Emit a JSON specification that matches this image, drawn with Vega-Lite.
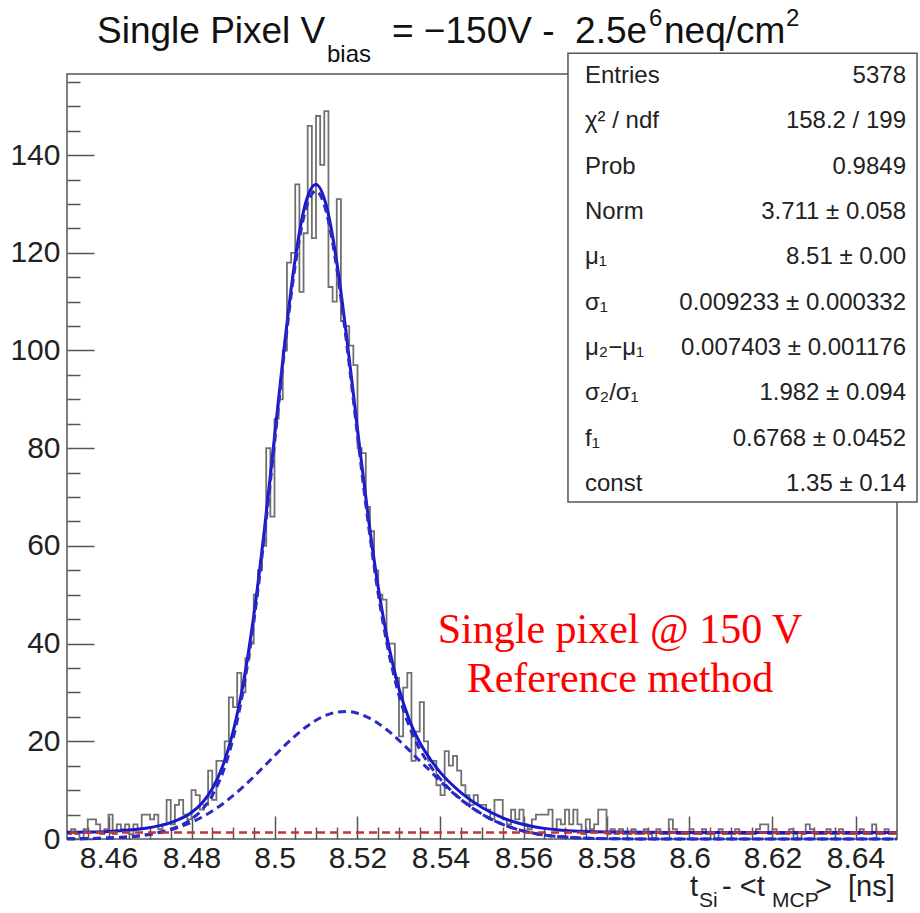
{
  "$schema": "https://vega.github.io/schema/vega-lite/v6.json",
  "width": 830,
  "height": 765,
  "autosize": {"type": "none"},
  "padding": {"left": 67, "top": 74, "right": 23, "bottom": 74},
  "background": "white",
  "config": {"view": {"stroke": "#555", "strokeWidth": 1.5}, "font": "Liberation Sans"},
  "datasets": {
    "hist": [
      {"x":8.450,"n":1},{"x":8.451,"n":2},{"x":8.452,"n":1},{"x":8.453,"n":0},{"x":8.454,"n":2},
      {"x":8.455,"n":4},{"x":8.456,"n":4},{"x":8.457,"n":3},{"x":8.458,"n":1},{"x":8.459,"n":2},
      {"x":8.460,"n":5},{"x":8.461,"n":1},{"x":8.462,"n":3},{"x":8.463,"n":2},{"x":8.464,"n":3},
      {"x":8.465,"n":1},{"x":8.466,"n":3},{"x":8.467,"n":2},{"x":8.468,"n":5},{"x":8.469,"n":5},
      {"x":8.470,"n":4},{"x":8.471,"n":5},{"x":8.472,"n":2},{"x":8.473,"n":3},{"x":8.474,"n":8},
      {"x":8.475,"n":3},{"x":8.476,"n":7},{"x":8.477,"n":8},{"x":8.478,"n":5},{"x":8.479,"n":4},
      {"x":8.480,"n":10},{"x":8.481,"n":9},{"x":8.482,"n":6},{"x":8.483,"n":7},{"x":8.484,"n":14},
      {"x":8.485,"n":8},{"x":8.486,"n":16},{"x":8.487,"n":16},{"x":8.488,"n":20},{"x":8.489,"n":29},
      {"x":8.490,"n":27},{"x":8.491,"n":34},{"x":8.492,"n":30},{"x":8.493,"n":37},{"x":8.494,"n":40},
      {"x":8.495,"n":50},{"x":8.496,"n":55},{"x":8.497,"n":60},{"x":8.498,"n":80},{"x":8.499,"n":66},
      {"x":8.500,"n":86},{"x":8.501,"n":90},{"x":8.502,"n":100},{"x":8.503,"n":118},{"x":8.504,"n":120},
      {"x":8.505,"n":134},{"x":8.506,"n":112},{"x":8.507,"n":124},{"x":8.508,"n":146},{"x":8.509,"n":123},
      {"x":8.510,"n":148},{"x":8.511,"n":138},{"x":8.512,"n":149},{"x":8.513,"n":113},{"x":8.514,"n":110},
      {"x":8.515,"n":131},{"x":8.516,"n":106},{"x":8.517,"n":105},{"x":8.518,"n":101},{"x":8.519,"n":97},
      {"x":8.520,"n":80},{"x":8.521,"n":79},{"x":8.522,"n":68},{"x":8.523,"n":63},{"x":8.524,"n":55},
      {"x":8.525,"n":50},{"x":8.526,"n":49},{"x":8.527,"n":40},{"x":8.528,"n":40},{"x":8.529,"n":33},
      {"x":8.530,"n":21},{"x":8.531,"n":31},{"x":8.532,"n":34},{"x":8.533,"n":16},{"x":8.534,"n":22},
      {"x":8.535,"n":28},{"x":8.536,"n":20},{"x":8.537,"n":16},{"x":8.538,"n":16},{"x":8.539,"n":11},
      {"x":8.540,"n":9},{"x":8.541,"n":18},{"x":8.542,"n":15},{"x":8.543,"n":17},{"x":8.544,"n":14},
      {"x":8.545,"n":11},{"x":8.546,"n":9},{"x":8.547,"n":7},{"x":8.548,"n":9},{"x":8.549,"n":7},
      {"x":8.550,"n":7},{"x":8.551,"n":6},{"x":8.552,"n":4},{"x":8.553,"n":8},{"x":8.554,"n":8},
      {"x":8.555,"n":4},{"x":8.556,"n":3},{"x":8.557,"n":6},{"x":8.558,"n":4},{"x":8.559,"n":6},
      {"x":8.560,"n":3},{"x":8.561,"n":2},{"x":8.562,"n":4},{"x":8.563,"n":5},{"x":8.564,"n":5},
      {"x":8.565,"n":5},{"x":8.566,"n":6},{"x":8.567,"n":2},{"x":8.568,"n":4},{"x":8.569,"n":3},
      {"x":8.570,"n":6},{"x":8.571,"n":3},{"x":8.572,"n":6},{"x":8.573,"n":3},{"x":8.574,"n":1},
      {"x":8.575,"n":4},{"x":8.576,"n":2},{"x":8.577,"n":3},{"x":8.578,"n":6},{"x":8.579,"n":6},
      {"x":8.580,"n":1},{"x":8.581,"n":2},{"x":8.582,"n":1},{"x":8.583,"n":2},{"x":8.584,"n":1},
      {"x":8.585,"n":1},{"x":8.586,"n":2},{"x":8.587,"n":1},{"x":8.588,"n":1},{"x":8.589,"n":2},
      {"x":8.590,"n":1},{"x":8.591,"n":0},{"x":8.592,"n":2},{"x":8.593,"n":1},{"x":8.594,"n":1},
      {"x":8.595,"n":4},{"x":8.596,"n":2},{"x":8.597,"n":1},{"x":8.598,"n":1},{"x":8.599,"n":1},
      {"x":8.600,"n":2},{"x":8.601,"n":1},{"x":8.602,"n":1},{"x":8.603,"n":2},{"x":8.604,"n":1},
      {"x":8.605,"n":1},{"x":8.606,"n":0},{"x":8.607,"n":2},{"x":8.608,"n":1},{"x":8.609,"n":1},
      {"x":8.610,"n":1},{"x":8.611,"n":2},{"x":8.612,"n":1},{"x":8.613,"n":1},{"x":8.614,"n":1},
      {"x":8.615,"n":1},{"x":8.616,"n":2},{"x":8.617,"n":3},{"x":8.618,"n":3},{"x":8.619,"n":1},
      {"x":8.620,"n":2},{"x":8.621,"n":1},{"x":8.622,"n":1},{"x":8.623,"n":1},{"x":8.624,"n":2},
      {"x":8.625,"n":1},{"x":8.626,"n":0},{"x":8.627,"n":1},{"x":8.628,"n":3},{"x":8.629,"n":2},
      {"x":8.630,"n":1},{"x":8.631,"n":1},{"x":8.632,"n":1},{"x":8.633,"n":2},{"x":8.634,"n":1},
      {"x":8.635,"n":1},{"x":8.636,"n":2},{"x":8.637,"n":1},{"x":8.638,"n":1},{"x":8.639,"n":1},
      {"x":8.640,"n":1},{"x":8.641,"n":2},{"x":8.642,"n":1},{"x":8.643,"n":1},{"x":8.644,"n":3},
      {"x":8.645,"n":1},{"x":8.646,"n":1},{"x":8.647,"n":2},{"x":8.648,"n":1},{"x":8.649,"n":1},
      {"x":8.650,"n":1}
    ],
    "fit": [
      {"x":8.450,"total":1.383,"gsum":0.033,"wide":0.033},
      {"x":8.455,"total":1.435,"gsum":0.085,"wide":0.085},
      {"x":8.460,"total":1.557,"gsum":0.207,"wide":0.207},
      {"x":8.465,"total":1.819,"gsum":0.469,"wide":0.468},
      {"x":8.470,"total":2.340,"gsum":0.990,"wide":0.978},
      {"x":8.475,"total":3.349,"gsum":1.999,"wide":1.898},
      {"x":8.480,"total":5.427,"gsum":4.077,"wide":3.418},
      {"x":8.4825,"total":7.321,"gsum":5.971,"wide":4.461},
      {"x":8.485,"total":10.273,"gsum":8.923,"wide":5.713},
      {"x":8.4875,"total":14.88,"gsum":13.53,"wide":7.18},
      {"x":8.490,"total":21.88,"gsum":20.53,"wide":8.86},
      {"x":8.4925,"total":32.00,"gsum":30.65,"wide":10.73},
      {"x":8.495,"total":45.72,"gsum":44.37,"wide":12.75},
      {"x":8.4975,"total":62.85,"gsum":61.50,"wide":14.88},
      {"x":8.500,"total":82.30,"gsum":80.95,"wide":17.04},
      {"x":8.5025,"total":101.90,"gsum":100.55,"wide":19.15},
      {"x":8.505,"total":118.83,"gsum":117.48,"wide":21.13},
      {"x":8.5075,"total":130.20,"gsum":128.85,"wide":22.87},
      {"x":8.510,"total":134.00,"gsum":132.65,"wide":24.31},
      {"x":8.5125,"total":129.63,"gsum":128.28,"wide":25.36},
      {"x":8.515,"total":118.17,"gsum":116.82,"wide":25.96},
      {"x":8.5175,"total":101.98,"gsum":100.63,"wide":26.09},
      {"x":8.520,"total":83.91,"gsum":82.56,"wide":25.73},
      {"x":8.5225,"total":66.53,"gsum":65.18,"wide":24.91},
      {"x":8.525,"total":51.51,"gsum":50.16,"wide":23.66},
      {"x":8.5275,"total":39.64,"gsum":38.29,"wide":22.07},
      {"x":8.530,"total":30.78,"gsum":29.43,"wide":20.20},
      {"x":8.5325,"total":24.37,"gsum":23.02,"wide":18.15},
      {"x":8.535,"total":19.74,"gsum":18.39,"wide":16.00},
      {"x":8.5375,"total":16.38,"gsum":15.03,"wide":13.94},
      {"x":8.540,"total":13.58,"gsum":12.23,"wide":11.77},
      {"x":8.545,"total":9.45,"gsum":8.10,"wide":8.03},
      {"x":8.550,"total":6.44,"gsum":5.09,"wide":5.08},
      {"x":8.555,"total":4.34,"gsum":2.99,"wide":2.99},
      {"x":8.560,"total":2.98,"gsum":1.63,"wide":1.63},
      {"x":8.565,"total":2.175,"gsum":0.825,"wide":0.825},
      {"x":8.570,"total":1.738,"gsum":0.388,"wide":0.388},
      {"x":8.575,"total":1.519,"gsum":0.169,"wide":0.169},
      {"x":8.580,"total":1.418,"gsum":0.068,"wide":0.068},
      {"x":8.590,"total":1.359,"gsum":0.009,"wide":0.009},
      {"x":8.600,"total":1.351,"gsum":0.001,"wide":0.001},
      {"x":8.650,"total":1.350,"gsum":0.0,"wide":0.0}
    ]
  },
  "layer": [
    {
      "data": {"name": "hist"},
      "mark": {"type": "line", "interpolate": "step-after", "stroke": "#707070", "strokeWidth": 1.8},
      "encoding": {
        "x": {"field": "x", "type": "quantitative",
              "scale": {"domain": [8.45, 8.65], "nice": false, "zero": false},
              "axis": {"orient": "bottom", "values": [8.46,8.48,8.5,8.52,8.54,8.56,8.58,8.6,8.62,8.64], "format": ".2~f",
                       "labelFontSize": 30, "labelFont": "Liberation Sans", "labelColor": "#222", "tickSize": -23,
                       "tickColor": "#555", "tickWidth": 1.5, "domain": false, "grid": false, "title": null,
                       "labelPadding": 27, "labelFlush": false, "labelOverlap": false}},
        "y": {"field": "n", "type": "quantitative",
              "scale": {"domain": [0, 156.6], "nice": false, "zero": true},
              "axis": {"orient": "left", "values": [0,20,40,60,80,100,120,140],
                       "labelFontSize": 30, "labelFont": "Liberation Sans", "labelColor": "#222", "tickSize": -27,
                       "tickColor": "#555", "tickWidth": 1.5, "domain": false, "grid": false, "title": null,
                       "labelPadding": 34, "labelFlush": false, "labelOverlap": false}}
      }
    },
    {
      "data": {"name": "fit"},
      "mark": {"type": "line", "interpolate": "monotone", "stroke": "#1818cc", "strokeWidth": 3},
      "encoding": {
        "x": {"field": "x", "type": "quantitative",
              "axis": {"orient": "bottom", "values": [8.455,8.465,8.47,8.475,8.485,8.49,8.495,8.505,8.51,8.515,8.525,8.53,8.535,8.545,8.55,8.555,8.565,8.57,8.575,8.585,8.59,8.595,8.605,8.61,8.615,8.625,8.63,8.635,8.645],
                       "labels": false, "tickSize": -12, "tickColor": "#555", "tickWidth": 1.5, "domain": false, "grid": false, "title": null}},
        "y": {"field": "total", "type": "quantitative",
              "axis": {"orient": "left", "values": [5,10,15,25,30,35,45,50,55,65,70,75,85,90,95,105,110,115,125,130,135,145,150,155],
                       "labels": false, "tickSize": -13, "tickColor": "#555", "tickWidth": 1.5, "domain": false, "grid": false, "title": null}}
      }
    },
    {
      "data": {"name": "fit"},
      "mark": {"type": "line", "interpolate": "monotone", "stroke": "#2a2ac4", "strokeWidth": 3, "strokeDash": [8, 5]},
      "encoding": {
        "x": {"field": "x", "type": "quantitative", "axis": null},
        "y": {"field": "gsum", "type": "quantitative", "axis": null}
      }
    },
    {
      "data": {"name": "fit"},
      "mark": {"type": "line", "interpolate": "monotone", "stroke": "#2a2ac4", "strokeWidth": 3, "strokeDash": [8, 5]},
      "encoding": {
        "x": {"field": "x", "type": "quantitative", "axis": null},
        "y": {"field": "wide", "type": "quantitative", "axis": null}
      }
    },
    {
      "data": {"values": [{}]},
      "mark": {"type": "rule", "stroke": "#c83232", "strokeWidth": 2.5, "strokeDash": [8, 5]},
      "encoding": {"y": {"datum": 1.35, "axis": null}}
    },
    {
      "data": {"values": [{}]},
      "mark": {"type": "rect", "fill": "white", "stroke": "#555", "strokeWidth": 1.5},
      "encoding": {
        "x": {"datum": 8.57072, "axis": null}, "x2": {"datum": 8.65482},
        "y": {"datum": 160.87, "axis": null}, "y2": {"datum": 68.97}
      }
    },
    {
      "data": {"values": [{}]},
      "mark": {"type": "text", "align": "left", "baseline": "alphabetic", "fontSize": 24, "font": "Liberation Sans", "color": "#222", "lineHeight": 45.3,
               "text": ["Entries", "χ² / ndf", "Prob", "Norm", "μ₁", "σ₁", "μ₂−μ₁", "σ₂/σ₁", "f₁", "const"]},
      "encoding": {"x": {"datum": 8.57482, "axis": null}, "y": {"datum": 154.73, "axis": null}}
    },
    {
      "data": {"values": [{}]},
      "mark": {"type": "text", "align": "right", "baseline": "alphabetic", "fontSize": 24, "font": "Liberation Sans", "color": "#222", "lineHeight": 45.3,
               "text": ["5378", "158.2 / 199", "0.9849", "3.711 ± 0.058", "8.51 ± 0.00", "0.009233 ± 0.000332", "0.007403 ± 0.001176", "1.982 ± 0.094", "0.6768 ± 0.0452", "1.35 ± 0.14"]},
      "encoding": {"x": {"datum": 8.65217, "axis": null}, "y": {"datum": 154.73, "axis": null}}
    },
    {
      "data": {"values": [{}]},
      "mark": {"type": "text", "align": "center", "baseline": "alphabetic", "fontSize": 42, "font": "Liberation Serif", "color": "#ff0000", "lineHeight": 49,
               "text": ["Single pixel @ 150 V", "Reference method"]},
      "encoding": {"x": {"datum": 8.58325, "axis": null}, "y": {"datum": 40.11, "axis": null}}
    },
    {
      "data": {"values": [{}]},
      "mark": {"type": "text", "align": "left", "baseline": "alphabetic", "fontSize": 37, "font": "Liberation Sans", "color": "#111", "text": "Single Pixel V"},
      "encoding": {"x": {"datum": 8.45723, "axis": null}, "y": {"datum": 162.91, "axis": null}}
    },
    {
      "data": {"values": [{}]},
      "mark": {"type": "text", "align": "left", "baseline": "alphabetic", "fontSize": 24, "font": "Liberation Sans", "color": "#111", "text": "bias"},
      "encoding": {"x": {"datum": 8.51265, "axis": null}, "y": {"datum": 159.03, "axis": null}}
    },
    {
      "data": {"values": [{}]},
      "mark": {"type": "text", "align": "left", "baseline": "alphabetic", "fontSize": 37, "font": "Liberation Sans", "color": "#111", "text": "= −150V -\u00a0\u00a02.5e"},
      "encoding": {"x": {"datum": 8.52831, "axis": null}, "y": {"datum": 162.91, "axis": null}}
    },
    {
      "data": {"values": [{}]},
      "mark": {"type": "text", "align": "left", "baseline": "alphabetic", "fontSize": 24, "font": "Liberation Sans", "color": "#111", "text": "6"},
      "encoding": {"x": {"datum": 8.59024, "axis": null}, "y": {"datum": 166.39, "axis": null}}
    },
    {
      "data": {"values": [{}]},
      "mark": {"type": "text", "align": "left", "baseline": "alphabetic", "fontSize": 37, "font": "Liberation Sans", "color": "#111", "text": "neq/cm"},
      "encoding": {"x": {"datum": 8.59386, "axis": null}, "y": {"datum": 162.91, "axis": null}}
    },
    {
      "data": {"values": [{}]},
      "mark": {"type": "text", "align": "left", "baseline": "alphabetic", "fontSize": 24, "font": "Liberation Sans", "color": "#111", "text": "2"},
      "encoding": {"x": {"datum": 8.62325, "axis": null}, "y": {"datum": 166.39, "axis": null}}
    },
    {
      "data": {"values": [{}]},
      "mark": {"type": "text", "align": "left", "baseline": "alphabetic", "fontSize": 29, "font": "Liberation Sans", "color": "#222", "text": "t"},
      "encoding": {"x": {"datum": 8.60012, "axis": null}, "y": {"datum": -11.67, "axis": null}}
    },
    {
      "data": {"values": [{}]},
      "mark": {"type": "text", "align": "left", "baseline": "alphabetic", "fontSize": 21, "font": "Liberation Sans", "color": "#222", "text": "Si"},
      "encoding": {"x": {"datum": 8.60229, "axis": null}, "y": {"datum": -13.92, "axis": null}}
    },
    {
      "data": {"values": [{}]},
      "mark": {"type": "text", "align": "left", "baseline": "alphabetic", "fontSize": 29, "font": "Liberation Sans", "color": "#222", "text": "- <t"},
      "encoding": {"x": {"datum": 8.60783, "axis": null}, "y": {"datum": -11.67, "axis": null}}
    },
    {
      "data": {"values": [{}]},
      "mark": {"type": "text", "align": "left", "baseline": "alphabetic", "fontSize": 21, "font": "Liberation Sans", "color": "#222", "text": "MCP"},
      "encoding": {"x": {"datum": 8.61988, "axis": null}, "y": {"datum": -13.92, "axis": null}}
    },
    {
      "data": {"values": [{}]},
      "mark": {"type": "text", "align": "left", "baseline": "alphabetic", "fontSize": 29, "font": "Liberation Sans", "color": "#222", "text": ">\u00a0\u00a0[ns]"},
      "encoding": {"x": {"datum": 8.63024, "axis": null}, "y": {"datum": -11.67, "axis": null}}
    }
  ],
  "resolve": {"axis": {"x": "independent", "y": "independent"}}
}
